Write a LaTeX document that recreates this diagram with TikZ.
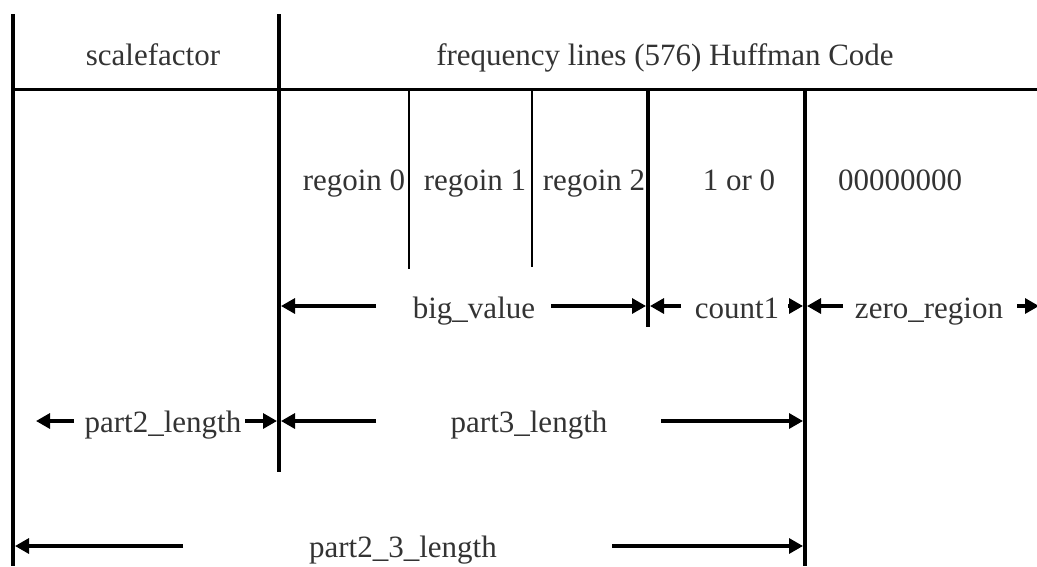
\documentclass[tikz,border=0pt]{standalone}
\usepackage{fontspec}
\setmainfont{Liberation Serif}
\usetikzlibrary{arrows.meta}
\begin{document}
\begin{tikzpicture}[x=1pt,y=-1pt,
  lbl/.style={anchor=base,inner sep=0pt,text=black!80,font=\fontsize{31}{36}\selectfont},
  thick line/.style={line width=4pt},
  thin line/.style={line width=2.6pt},
  dim/.style={line width=3.2pt,-{Triangle[length=14pt 0 0,width=15pt 0 0]}}]
\useasboundingbox (0,0) rectangle (1037,566);
% frame lines
\coordinate (L1t) at (13,14);   \coordinate (L1b) at (13,566);
\coordinate (L2t) at (279,14);  \coordinate (L2b) at (279,472);
\coordinate (Hl) at (13,89);    \coordinate (Hr) at (1037,89);
\coordinate (R0t) at (409,89);  \coordinate (R0b) at (409,269);
\coordinate (R1t) at (532,89);  \coordinate (R1b) at (532,267);
\coordinate (R2t) at (648,89);  \coordinate (R2b) at (648,327);
\coordinate (R3t) at (805,89);  \coordinate (R3b) at (805,566);
\draw[thick line] (L1t) -- (L1b);
\draw[thick line] (L2t) -- (L2b);
\draw[line width=3pt] (Hl) -- (Hr);
\draw[thin line] (R0t) -- (R0b);
\draw[thin line] (R1t) -- (R1b);
\draw[thick line] (R2t) -- (R2b);
\draw[thick line] (R3t) -- (R3b);
% header texts
\node[lbl] (sf) at (153,65) {scalefactor};
\node[lbl] (fl) at (665,65) {frequency lines (576) Huffman Code};
% region texts
\node[lbl] (r0) at (354,190) {regoin 0};
\node[lbl] (r1) at (475,190) {regoin 1};
\node[lbl] (r2) at (594,190) {regoin 2};
\node[lbl] (c1) at (739,190) {1 or 0};
\node[lbl] (zz) at (900,190) {00000000};
% row 3
\node[lbl] (bv) at (474,318) {big\_value};
\node[lbl] (cn) at (737,318) {count1};
\node[lbl] (zr) at (929,318) {zero\_region};
\coordinate (bvA) at (376,306); \coordinate (bvAt) at (281,306);
\coordinate (bvB) at (551,306); \coordinate (bvBt) at (646,306);
\coordinate (cnA) at (681,306); \coordinate (cnAt) at (650,306);
\coordinate (cnB) at (788,306); \coordinate (cnBt) at (803,306);
\coordinate (zrA) at (843,306); \coordinate (zrAt) at (807,306);
\coordinate (zrB) at (1017,306); \coordinate (zrBt) at (1039,306);
\draw[dim] (bvA) -- (bvAt);
\draw[dim] (bvB) -- (bvBt);
\draw[dim] (cnA) -- (cnAt);
\draw[dim] (cnB) -- (cnBt);
\draw[dim] (zrA) -- (zrAt);
\draw[dim] (zrB) -- (zrBt);
% row 4
\node[lbl] (p2) at (163,432) {part2\_length};
\node[lbl] (p3) at (529,432) {part3\_length};
\coordinate (p2A) at (74,421);  \coordinate (p2At) at (36,421);
\coordinate (p2B) at (245,421); \coordinate (p2Bt) at (277,421);
\coordinate (p3A) at (376,421); \coordinate (p3At) at (281,421);
\coordinate (p3B) at (661,421); \coordinate (p3Bt) at (803,421);
\draw[dim] (p2A) -- (p2At);
\draw[dim] (p2B) -- (p2Bt);
\draw[dim] (p3A) -- (p3At);
\draw[dim] (p3B) -- (p3Bt);
% row 5
\node[lbl] (p23) at (403,557) {part2\_3\_length};
\coordinate (p23A) at (183,546); \coordinate (p23At) at (15,546);
\coordinate (p23B) at (612,546); \coordinate (p23Bt) at (803,546);
\draw[dim] (p23A) -- (p23At);
\draw[dim] (p23B) -- (p23Bt);
\end{tikzpicture}
\end{document}
